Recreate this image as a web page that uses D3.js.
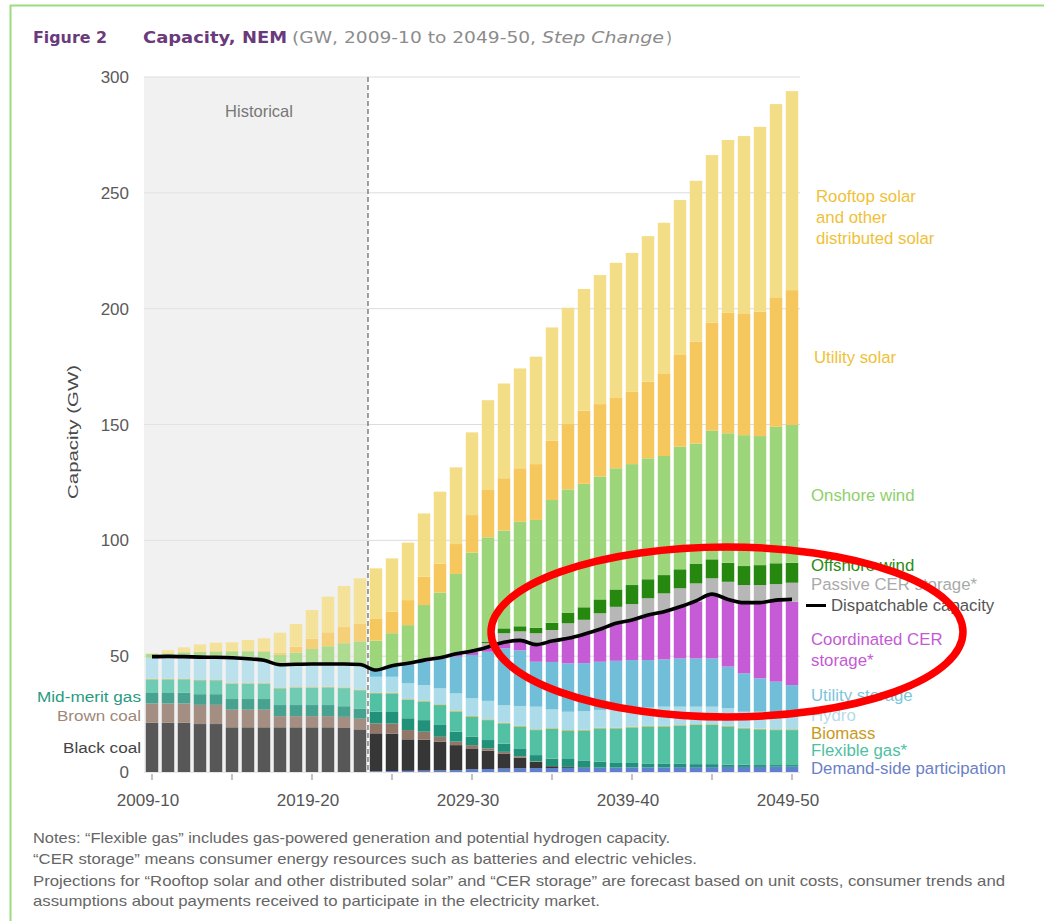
<!DOCTYPE html>
<html><head><meta charset="utf-8">
<script src="https://cdn.jsdelivr.net/npm/d3@7"></script>
<style>body{margin:0;background:#fff}svg{display:block}</style>
</head><body>
<svg id="c" width="1044" height="921"></svg>
<script>
const years = ["2009-10","2010-11","2011-12","2012-13","2013-14","2014-15","2015-16","2016-17","2017-18","2018-19",
"2019-20","2020-21","2021-22","2022-23","2023-24","2024-25","2025-26","2026-27","2027-28","2028-29",
"2029-30","2030-31","2031-32","2032-33","2033-34","2034-35","2035-36","2036-37","2037-38","2038-39",
"2039-40","2040-41","2041-42","2042-43","2043-44","2044-45","2045-46","2046-47","2047-48","2048-49","2049-50"];
const xTickLabels = ["2009-10","2019-20","2029-30","2039-40","2049-50"];
const xMinorTicks = ["2009-10","2014-15","2019-20","2024-25","2029-30","2034-35","2039-40","2044-45","2049-50"];
const yTicks = [0,50,100,150,200,250,300];
const lastHistorical = "2022-23";

// GW per series (stack order bottom to top)
const demandSide = [0,0,0,0,0,0,0,0,0,0,0,0,0,0,
 0.3,0.4,0.5,0.6,0.7,0.8,1.2,1.3,1.5,1.6,1.7,1.7,1.8,1.8,1.9,1.9,2.0,2.0,2.0,2.1,2.1,2.1,2.2,2.2,2.2,2.3,2.3];
const blackCoal = [21.3,21.3,21.3,20.7,20.7,19.3,19.3,19.3,19.3,19.3,19.3,19.3,19.0,18.4,
 16.4,16.2,13.6,13.3,12.4,10.8,9.0,7.9,6.5,4.6,2.7,0.8,0.4,0.2,0,0,0,0,0,0,0,0,0,0,0,0,0];
const brownCoal = [8.3,8.3,8.3,8.3,8.3,7.6,7.6,7.6,4.8,4.8,4.8,4.8,4.8,4.6,
 4.3,4.3,4.0,3.5,2.1,1.5,1.4,1.0,0.7,0.6,0.2,0.1,0,0,0,0,0,0,0,0,0,0,0,0,0,0,0];
const midMeritGas = [4.5,4.5,4.6,4.6,4.6,4.6,4.6,4.6,4.8,4.8,4.8,4.8,4.6,4.4,
 5.0,5.0,5.1,5.0,5.1,4.3,3.6,3.6,3.5,3.4,2.7,3.2,3.7,3.0,2.6,2.0,1.9,1.5,1.5,1.4,1.3,1.3,1.0,0.9,0.8,0.7,0.7];
const flexibleGas = [5.8,5.8,5.8,6.0,6.0,6.5,6.5,6.5,7.2,7.4,7.4,7.6,7.8,7.9,
 8.0,8.0,7.9,7.9,8.6,8.6,8.7,8.6,8.8,9.4,10.8,12.8,11.9,12.9,14.3,14.9,15.3,16.1,16.1,16.4,16.9,16.9,16.4,15.7,15.4,15.1,15.1];
const biomass = [0.3,0.3,0.3,0.3,0.3,0.3,0.3,0.3,0.3,0.3,0.3,0.3,0.3,0.3,
 0.3,0.3,0.3,0.3,0.3,0.3,0.3,0.3,0.3,0.3,0.3,0.3,0.3,0.3,0.3,0.3,0.3,0.3,0.3,0.3,0.3,0.3,0.3,0.3,0.3,0.3,0.3];
const hydro = [9.1,9.1,9.0,9.2,9.1,10.5,10.1,9.4,9.4,9.4,9.5,9.3,9.6,10.3,
 6.8,6.9,6.9,6.9,6.9,7.6,7.6,8.0,7.6,8.6,9.8,8.1,7.9,8.0,7.7,8.4,8.0,7.9,8.3,8.0,7.6,7.6,7.6,6.9,7.3,7.2,6.9];
const utilityStorage = [0,0,0,0,0,0,0,0,0,0,0,0,0,0,
 3.6,4.9,7.9,10.1,13.0,15.9,18.7,21.2,24.5,24.0,19.4,20.5,20.9,20.8,20.8,20.5,20.8,20.5,20.4,20.8,20.8,20.8,18.0,16.6,14.4,13.4,12.2];
const coordinatedCER = [0,0,0,0,0,0,0,0,0,0,0,0,0,0,
 0,0,0.3,0.4,0.6,1.4,1.4,2.2,2.8,4.5,6.8,8.5,11.5,12.7,14.0,16.2,17.3,19.5,20.6,22.3,24.5,27.4,29.5,30.9,32.4,35.2,36.0];
const passiveCER = [0,0,0,0,0,0,0,0,0,0,0,0,0,0,
 0,0,0,0,0,0,0.3,1.5,3.7,3.7,5.5,5.3,5.8,6.0,6.9,7.1,6.9,7.2,7.9,8.0,7.9,7.2,7.1,7.2,7.9,6.9,8.2];
const offshoreWind = [0,0,0,0,0,0,0,0,0,0,0,0,0,0,
 0,0,0,0,0,0,0,0.7,2.1,2.2,2.3,3.1,4.6,5.4,6.0,7.5,8.2,8.2,7.9,8.2,8.4,8.2,8.2,8.2,8.6,9.0,8.6];
const onshoreWind = [1.6,1.9,2.4,2.7,3.0,3.3,3.7,4.2,4.8,5.6,7.0,8.2,9.5,10.5,
 12.0,13.9,16.9,24.1,27.7,34.3,42.5,45.0,42.2,45.1,46.6,53.0,53.2,53.3,53.0,52.3,52.2,52.2,51.4,52.9,52.0,55.5,55.9,56.5,55.7,58.9,59.5];
const utilitySolar = [0,0,0,0.1,0.2,0.2,0.3,0.4,0.9,2.5,4.5,6.0,7.0,7.5,
 9.6,9.3,10.8,12.2,12.6,12.9,16.2,20.7,22.6,23.1,24.1,25.6,28.2,31.6,31.3,30.6,31.2,33.1,35.4,39.6,43.9,46.6,52.0,52.3,53.7,55.9,58.2];
const rooftopSolar = [0.3,1.4,2.1,3.2,3.6,3.7,4.6,5.4,8.6,9.8,12.3,15.4,17.7,19.7,
 21.6,23.0,24.8,27.3,31.0,33.1,35.7,38.5,40.9,43.1,46.4,48.9,50.2,52.5,55.7,58.1,60.0,62.8,65.3,66.9,69.5,72.4,74.6,76.8,79.8,83.4,85.9];
const dispatchable = [49.8,49.9,49.8,49.6,49.5,49.3,48.9,48.2,46.3,46.5,46.6,46.6,46.6,46.4,
 44.0,45.9,46.9,48.3,49.3,51.0,52.2,54.0,56.0,56.8,55.0,56.5,57.7,59.5,61.6,64.2,65.6,67.8,69.2,71.3,73.9,76.8,74.5,73.1,73.1,74.2,74.5];

(function(){
const keys = ["dsp","black","brown","mid","flex","bio","hydro","ustor","coord","passive","off","on","usolar","roof"];
const colors = {dsp:"#5f7fcf",black:"#363636",brown:"#927668",mid:"#22917a",flex:"#52c1a3",bio:"#d4a92c",
  hydro:"#acdbe9",ustor:"#70bed7",coord:"#c65bd6",passive:"#b7b7b7",off:"#27880f",on:"#9dd57b",usolar:"#f5c75d",roof:"#f3dd86"};
const series = [demandSide,blackCoal,brownCoal,midMeritGas,flexibleGas,biomass,hydro,utilityStorage,coordinatedCER,passiveCER,offshoreWind,onshoreWind,utilitySolar,rooftopSolar];
const table = years.map((yr,i)=>{const o={year:yr}; keys.forEach((k,j)=>o[k]=series[j][i]); return o;});

const svg = d3.select("#c");
const FONT = "'Liberation Sans', Arial, sans-serif";
const TFONT = "'DejaVu Sans', Lato, sans-serif";
const pL = 144, pR = 800, pT = 77, pB = 772;
const x = d3.scaleBand().domain(years).range([pL,pR]).paddingInner(0.22).paddingOuter(0.11);
const y = d3.scaleLinear().domain([0,300]).range([pB,pT]);
const histEnd = x(lastHistorical) + x.step() - (x.step()-x.bandwidth())/2;

// border
svg.append("line").attr("x1",10).attr("x2",1044).attr("y1",5.5).attr("y2",5.5).attr("stroke","#9ddc80").attr("stroke-width",2);
svg.append("line").attr("x1",10.5).attr("x2",10.5).attr("y1",5).attr("y2",921).attr("stroke","#9ddc80").attr("stroke-width",2);

// title
const titleParts = [
 ["Figure 2",33,74,"#6a3a7c","bold","normal"],
 ["Capacity, NEM",143,144,"#6a3a7c","bold","normal"],
 ["(GW, 2009-10 to 2049-50,",292,244,"#8c8c8c","normal","normal"],
 ["Step Change",542,122,"#8c8c8c","normal","italic"],
 [")",666,6,"#8c8c8c","normal","normal"]];
svg.append("g").selectAll("text").data(titleParts).join("text")
  .attr("x",d=>d[1]).attr("y",43).attr("font-family",TFONT).attr("font-size",16.5)
  .attr("fill",d=>d[3]).attr("font-weight",d=>d[4]).attr("font-style",d=>d[5])
  .attr("textLength",d=>d[2]).attr("lengthAdjust","spacingAndGlyphs").text(d=>d[0]);

// historical background
svg.append("rect").attr("x",pL).attr("y",pT).attr("width",histEnd-pL).attr("height",pB-pT).attr("fill","#efefef");

// grid
svg.append("g").selectAll("line").data(yTicks.filter(d=>d>0)).join("line")
  .attr("x1",pL).attr("x2",pR).attr("y1",d=>y(d)).attr("y2",d=>y(d))
  .attr("stroke","#dcdcdc").attr("stroke-width",1);

// bars
const stack = d3.stack().keys(keys)(table);
svg.append("g").selectAll("g").data(stack).join("g").attr("fill",d=>colors[d.key])
  .selectAll("rect").data(d=>d).join("rect")
  .attr("x",d=>x(d.data.year)).attr("width",x.bandwidth())
  .attr("y",d=>y(d[1])).attr("height",d=>Math.max(0,y(d[0])-y(d[1])));

// fade historical
svg.append("rect").attr("x",pL).attr("y",pT).attr("width",histEnd-pL).attr("height",pB-pT)
  .attr("fill","#ffffff").attr("opacity",0.17);

// dashed divider
svg.append("line").attr("x1",histEnd).attr("x2",histEnd).attr("y1",pT).attr("y2",pB)
  .attr("stroke","#707070").attr("stroke-width",1.3).attr("stroke-dasharray","5,3");
svg.append("text").attr("x",(pL+histEnd)/2+3).attr("y",117).attr("text-anchor","middle")
  .attr("font-family",FONT).attr("font-size",16.5).attr("fill","#777").text("Historical");

// dispatchable line
const line = d3.line().x((d,i)=>x(years[i])+x.bandwidth()/2).y(d=>y(d)).curve(d3.curveMonotoneX);
svg.append("path").datum(dispatchable).attr("d",line).attr("fill","none").attr("stroke","#000").attr("stroke-width",3.6)
  .attr("stroke-linejoin","round");

// y axis labels
svg.append("g").selectAll("text").data(yTicks).join("text")
  .attr("x",129).attr("y",d=>y(d)+6).attr("text-anchor","end")
  .attr("font-family",FONT).attr("font-size",17).attr("fill","#5a5a5a").text(d=>d);
svg.append("text").attr("transform","translate(78,432) rotate(-90)").attr("text-anchor","middle")
  .attr("font-family",FONT).attr("font-size",15).attr("fill","#4a4a4a")
  .attr("textLength",134).attr("lengthAdjust","spacingAndGlyphs").text("Capacity (GW)");

// x axis
svg.append("line").attr("x1",pL).attr("x2",pR).attr("y1",pB+0.5).attr("y2",pB+0.5).attr("stroke","#e4e4e4");
svg.append("g").selectAll("line").data(xMinorTicks).join("line")
  .attr("x1",d=>x(d)+x.bandwidth()/2).attr("x2",d=>x(d)+x.bandwidth()/2)
  .attr("y1",pB+2).attr("y2",pB+8).attr("stroke","#999").attr("stroke-width",1.2);
svg.append("g").selectAll("text").data(xTickLabels).join("text")
  .attr("x",d=>x(d)+x.bandwidth()/2-4).attr("y",806).attr("text-anchor","middle")
  .attr("font-family",FONT).attr("font-size",17).attr("fill","#555").text(d=>d);

// left labels
const leftLabels = [["Mid-merit gas",702,"#2a9a82",104],["Brown coal",721,"#a08878",84],["Black coal",753,"#444",78]];
svg.append("g").selectAll("text").data(leftLabels).join("text")
  .attr("x",141).attr("y",d=>d[1]).attr("text-anchor","end")
  .attr("font-family",FONT).attr("font-size",15.5).attr("fill",d=>d[2])
  .attr("textLength",d=>d[3]).attr("lengthAdjust","spacingAndGlyphs")
  .text(d=>d[0]);

// right legend
const legend = [
 ["Rooftop solar",202,"#efc138",816],["and other",223,"#efc138",816],["distributed solar",244,"#efc138",816],
 ["Utility solar",363,"#efc138",814],["Onshore wind",501,"#8fcf6c",811],["Offshore wind",571,"#2b8a12",811],
 ["Passive CER storage*",590,"#aaaaaa",811],["Dispatchable capacity",611,"#555555",831],
 ["Coordinated CER",645,"#c35ad4",811],["storage*",666,"#c35ad4",811],["Utility storage",701,"#7cc5da",811],
 ["Hydro",721,"#b5dbe9",811],["Biomass",739,"#c8991a",811],["Flexible gas*",756,"#4fc0a2",811],
 ["Demand-side participation",774,"#6b7fc6",811]];
svg.append("g").selectAll("text").data(legend).join("text")
  .attr("x",d=>d[3]).attr("y",d=>d[1]).attr("font-family",FONT).attr("font-size",16.8).attr("fill",d=>d[2]).text(d=>d[0]);
svg.append("line").attr("x1",806).attr("x2",826).attr("y1",605.5).attr("y2",605.5).attr("stroke","#000").attr("stroke-width",3);

// notes
const notes = [
 ["Notes: \u201cFlexible gas\u201d includes gas-powered generation and potential hydrogen capacity.",843,637],
 ["\u201cCER storage\u201d means consumer energy resources such as batteries and electric vehicles.",864,664],
 ["Projections for \u201cRooftop solar and other distributed solar\u201d and \u201cCER storage\u201d are forecast based on unit costs, consumer trends and",886,972],
 ["assumptions about payments received to participate in the electricity market.",906,567]];
svg.append("g").selectAll("text").data(notes).join("text")
  .attr("x",33).attr("y",d=>d[1]).attr("font-family",FONT).attr("font-size",14.5).attr("fill","#666")
  .attr("textLength",d=>d[2]).attr("lengthAdjust","spacingAndGlyphs").text(d=>d[0]);

// red annotation ellipse
svg.append("ellipse").attr("cx",727).attr("cy",632).attr("rx",236).attr("ry",85)
  .attr("fill","none").attr("stroke","#ff0000").attr("stroke-width",7.5);
})();
</script></body></html>
